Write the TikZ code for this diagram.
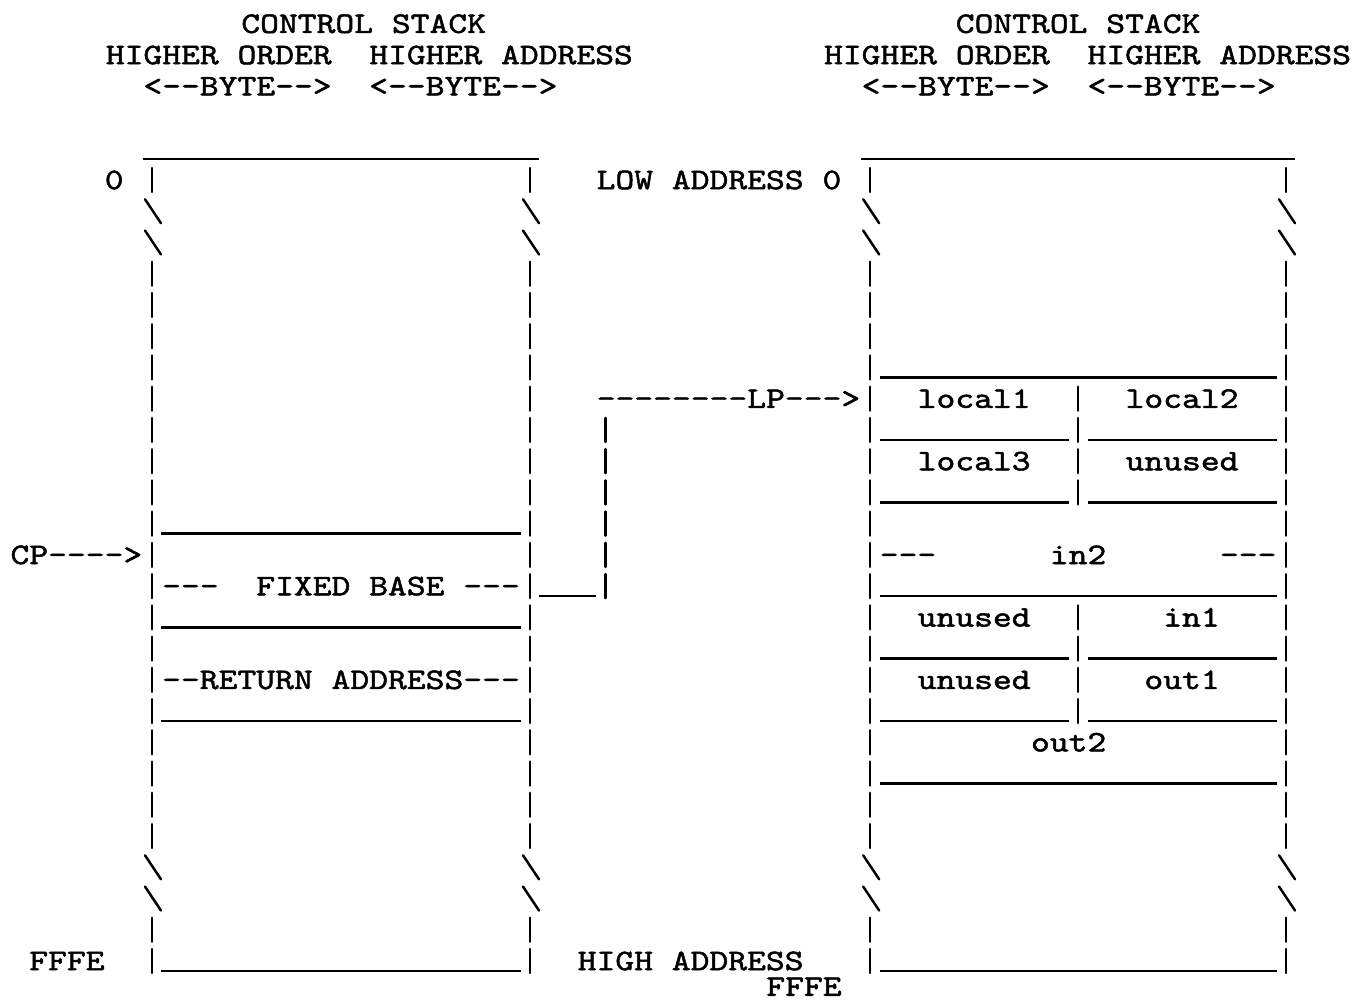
\documentclass[tikz,border=0pt]{standalone}
\usepackage{fontspec}
\newfontfamily\typewr{lmmono10-regular.otf}[FakeStretch=1.2, FakeBold=1.6]

% one typed bar, one break mark, one underline (column, row)
\newcommand{\tbar}[2]{\draw[bar] (#1,#2-0.384) -- (#1,#2+0.384);}
\newcommand{\tbrk}[2]{\draw[bar] (#1-0.37,#2-0.384) -- (#1+0.476,#2+0.384);}
\newcommand{\tul}[3]{\draw[ul] (#1,#3+0.32) -- (#2,#3+0.32);}

\begin{document}
\begin{tikzpicture}[x=3.78mm, y=-6.248mm]

\tikzstyle{txt} = [font=\typewr\fontsize{17}{20}\selectfont, inner sep=0pt, text height=10.4pt, text depth=0pt]
\tikzstyle{bar} = [line width=1.4pt, line cap=round]
\tikzstyle{ul} = [line width=1.4pt]

\useasboundingbox (-8.042,-5.762) rectangle (63.704,26.312);

% headings
\node[txt] (headL1) at (11.2,-5) {CONTROL STACK};
\node[txt] (headL2) at (11.5,-4) {HIGHER ORDER~~HIGHER ADDRESS};
\node[txt] (headL3) at (10.5,-3) {<--BYTE-->~~<--BYTE-->};
\node[txt] (headR1) at (49,-5) {CONTROL STACK};
\node[txt] (headR2) at (49.5,-4) {HIGHER ORDER~~HIGHER ADDRESS};
\node[txt] (headR3) at (48.5,-3) {<--BYTE-->~~<--BYTE-->};

% walls of both stacks
\foreach \c in {0,20,38,60}{
    \foreach \k in {0,24,25} \tbar{\c}{\k};
    \foreach \k in {3,4,...,21} \tbar{\c}{\k};
    \foreach \k in {1,2,22,23} \tbrk{\c}{\k};
}
\foreach \k in {7,8,9,10,14,15,16,17} \tbar{49}{\k};

% underlines
\tul{-0.5}{20.5}{-1}
\foreach \k in {11,14,17,25} \tul{0.5}{19.5}{\k};
\tul{37.5}{60.5}{-1}
\foreach \k in {6,13,19,25} \tul{38.5}{59.5}{\k};
\foreach \k in {8,10,15,17} {\tul{38.5}{48.5}{\k} \tul{49.5}{59.5}{\k}}

% left stack
\node[txt] (zeroL) at (-2,0) {0};
\node[txt] (cp) at (-4,12) {CP---->};
\node[txt] (fixed) at (10,13) {---~~FIXED BASE ---};
\node[txt] (ret) at (10,16) {--RETURN ADDRESS---};
\node[txt] (ffffL) at (-4.5,25) {FFFE};

% right stack
\node[txt] (lowaddr) at (30,0) {LOW ADDRESS 0};
\node[txt] (lp) at (30.5,7) {--------LP--->};
\node[txt] (local1) at (43.5,7) {local1};
\node[txt] (local2) at (54.5,7) {local2};
\node[txt] (local3) at (43.5,9) {local3};
\node[txt] (unusedA) at (54.5,9) {unused};
\node[txt] (in2L) at (40,12) {---};
\node[txt] (in2) at (49,12) {in2};
\node[txt] (in2R) at (58,12) {---};
\node[txt] (unusedB) at (43.5,14) {unused};
\node[txt] (in1) at (55,14) {in1};
\node[txt] (unusedC) at (43.5,16) {unused};
\node[txt] (out1) at (54.5,16) {out1};
\node[txt] (out2) at (48.5,18) {out2};
\node[txt] (highaddr) at (28.5,25) {HIGH ADDRESS};
\node[txt] (ffffR) at (34.5,25.82) {FFFE};

% link from the fixed base to LP
\coordinate (lnkA) at (20.5,13.32);
\coordinate (lnkB) at (23.5,13.32);
\draw[ul] (lnkA) -- (lnkB);
\foreach \k in {8,...,13} \tbar{24}{\k};

\end{tikzpicture}
\end{document}
